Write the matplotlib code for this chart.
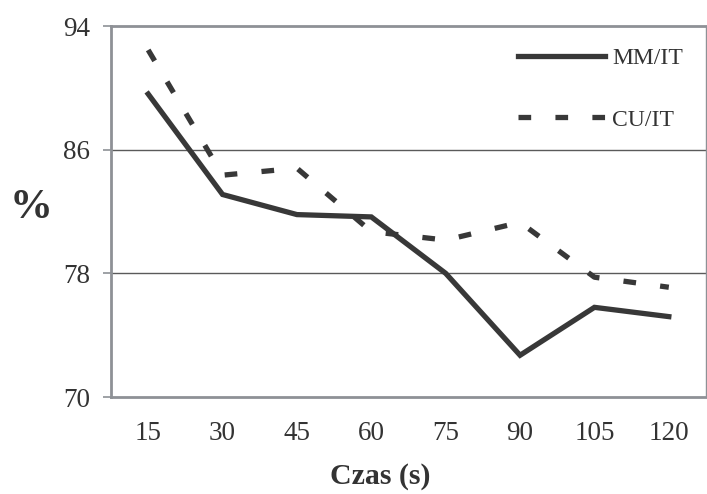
import matplotlib
matplotlib.use("Agg")
import matplotlib.pyplot as plt

categories = ["15", "30", "45", "60", "75", "90", "105", "120"]
mm_it = [89.6, 83.1, 81.8, 81.65, 78.0, 72.7, 75.8, 75.2]
cu_it = [92.45, 84.35, 84.8, 80.7, 80.15, 81.3, 77.75, 77.1]
y_ticks = [70, 78, 86, 94]

plt.rcParams['font.family'] = ['Liberation Serif', 'DejaVu Serif']
txt = '#333333'
line_c = '#383838'
spine_c = '#8e9196'

fig = plt.figure(figsize=(7.07, 4.94), dpi=100)
ax = fig.add_axes([111/707, 1-397/494, (706-111)/707, (397-26)/494])

x = list(range(len(categories)))
ax.plot(x, mm_it, color=line_c, lw=3.8, solid_joinstyle='miter', label='MM/IT')
l2, = ax.plot(x, cu_it, color=line_c, lw=3.8, dash_capstyle='butt', label='CU/IT')
l2.set_dashes((2.4, 4.6))

ax.set_xlim(-0.5, len(categories)-0.5)
ax.set_ylim(70, 94)
ax.set_yticks(y_ticks)
ax.set_xticks(x)
ax.set_xticklabels(categories)
for yv in y_ticks[1:-1]:
    ax.axhline(yv, color='#5a5a5a', lw=1.0, zorder=0)

for s in ['left', 'bottom', 'top']:
    ax.spines[s].set_color(spine_c)
    ax.spines[s].set_linewidth(2.0)
ax.spines['right'].set_color(spine_c)
ax.spines['right'].set_linewidth(1.0)

ax.tick_params(axis='y', length=6, width=1.2, color=spine_c, labelsize=19.5, labelcolor=txt, pad=9)
ax.tick_params(axis='x', length=0, labelsize=19.5, labelcolor=txt, pad=17)

fig.text(380/707, 1-476/494, 'Czas (s)', ha='center', va='center', fontsize=21.5, fontweight='bold', color=txt)
fig.text(31/707, 1-208/494, '%', ha='center', va='center', fontsize=31, fontweight='bold', color=txt)

leg = ax.legend(loc='upper right', frameon=False, fontsize=17, handlelength=3.7,
                labelspacing=1.7, handletextpad=0.3, borderaxespad=0.4,
                bbox_to_anchor=(0.993, 0.993))
for t in leg.get_texts():
    t.set_color(txt)

fig.savefig('out.png', dpi=100)
